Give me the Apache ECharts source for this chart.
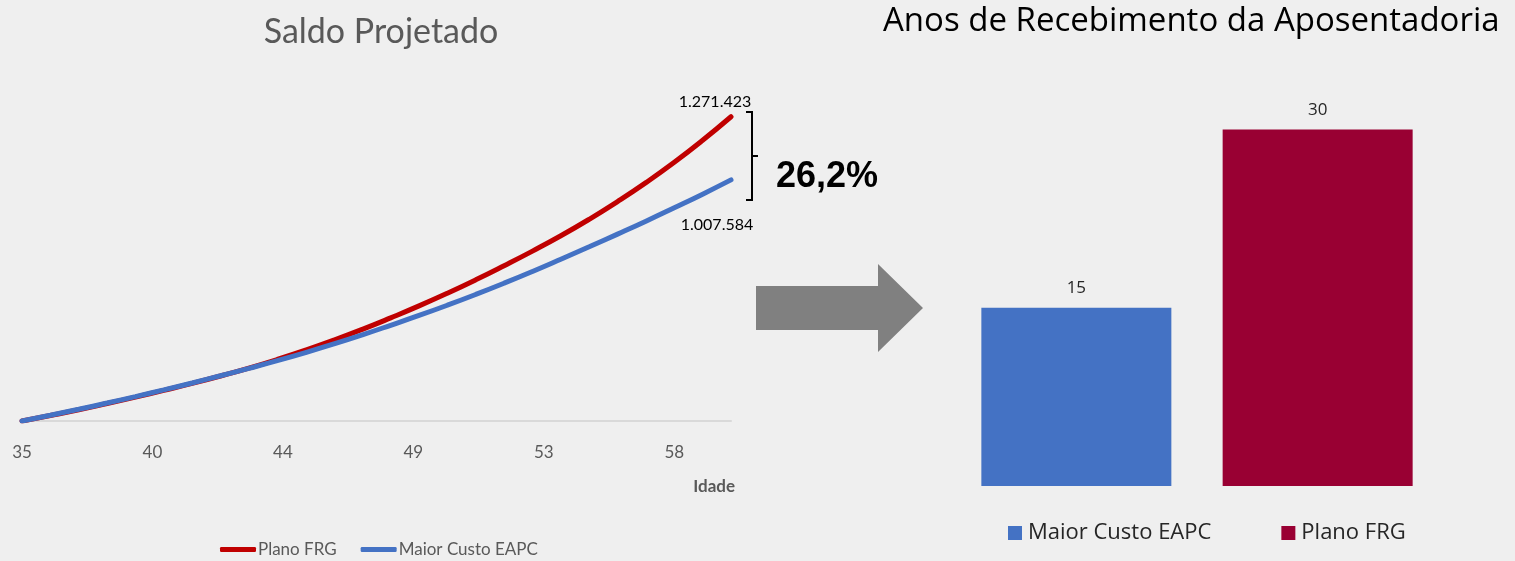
<!DOCTYPE html>
<html>
<head>
<meta charset="utf-8">
<script src="https://cdn.jsdelivr.net/npm/echarts@6/dist/echarts.min.js"></script>
<style>
  html, body { margin: 0; padding: 0; background: #efefef; }
  #saldo { position: absolute; left: 0; top: 0; width: 940px; height: 561px; }
  #anos { position: absolute; left: 870px; top: 0; width: 645px; height: 561px; }
</style>
</head>
<body>
<div id="saldo"></div>
<div id="anos"></div>
<script>
// idade (anos) e saldo projetado em R$
const ages = [35, 36, 37, 38, 39, 40, 41, 42, 43, 44, 45, 46, 47, 48, 49, 50, 51, 52, 53, 54, 55, 56, 57, 58, 59, 60]
const planoFRG = [0, 23000, 47000, 73000, 100000, 128000, 157000, 188000, 221000, 257000, 296000, 338000, 383000,
  431000, 481000, 534000, 590000, 649000, 710000, 774000, 843000, 917000, 996000, 1081000, 1173000, 1271423]
const maiorCustoEAPC = [0, 24000, 49000, 75000, 102000, 130000, 159000, 189000, 220000, 252000, 286000, 322000, 360000,
  400000, 441000, 484000, 529000, 576000, 625000, 676000, 728000, 781000, 835000, 891000, 948000, 1007584]
// o eixo do Excel mostra um rótulo a cada 4,6 anos
const tickAges = [35, 39.6, 44.2, 48.8, 53.4, 58]

// anos de recebimento
const barNames = ['Maior Custo EAPC', 'Plano FRG']
const anosRecebimento = [15, 30]

const fmt = (v) => String(Math.round(v)).replace(/\B(?=(\d{3})+(?!\d))/g, '.')

const saldo = echarts.init(document.getElementById('saldo'))
saldo.setOption({
  animation: false,
  title: {
    text: 'Saldo Projetado',
    left: 376,
    top: 10,
    textAlign: 'center',
    textStyle: { fontFamily: 'Lato', fontWeight: 'normal', fontSize: 34, color: '#595959' },
  },
  grid: { left: 22, top: 86, width: 709, height: 335 },
  xAxis: {
    type: 'value',
    min: 35,
    max: 60,
    name: 'Idade',
    nameLocation: 'end',
    nameGap: 0,
    nameTextStyle: {
      fontFamily: 'Lato', fontWeight: 'bold', fontSize: 17, color: '#595959',
      align: 'right', verticalAlign: 'top', padding: [57, -4, 0, 0],
    },
    axisLine: { lineStyle: { color: '#d9d9d9', width: 2 } },
    axisTick: { show: false },
    splitLine: { show: false },
    axisLabel: {
      customValues: tickAges,
      formatter: (v) => String(Math.round(v)),
      margin: 23,
      fontFamily: 'Lato',
      fontSize: 17,
      color: '#595959',
    },
  },
  yAxis: { type: 'value', min: 0, max: 1400000, show: false },
  legend: {
    left: 220,
    top: 541,
    padding: 0,
    itemWidth: 36,
    itemHeight: 5,
    itemGap: 24,
    icon: 'roundRect',
    textStyle: { fontFamily: 'Lato', fontSize: 17, color: '#595959', padding: [0, 0, 0, -3] },
    data: ['Plano FRG', 'Maior Custo EAPC'],
  },
  series: [
    {
      name: 'Plano FRG',
      type: 'line',
      smooth: true,
      showSymbol: false,
      color: '#c00000',
      lineStyle: { width: 5, cap: 'round' },
      data: ages.map((a, i) => [a, planoFRG[i]]),
      endLabel: {
        show: true,
        distance: 0,
        align: 'center',
        verticalAlign: 'middle',
        offset: [-16, -15],
        fontFamily: 'Lato',
        fontSize: 16,
        color: '#000',
        formatter: (p) => fmt(p.value[1]),
      },
    },
    {
      name: 'Maior Custo EAPC',
      type: 'line',
      smooth: true,
      showSymbol: false,
      color: '#4472c4',
      lineStyle: { width: 5, cap: 'round' },
      data: ages.map((a, i) => [a, maiorCustoEAPC[i]]),
      endLabel: {
        show: true,
        distance: 0,
        align: 'center',
        verticalAlign: 'middle',
        offset: [-14, 45],
        fontFamily: 'Lato',
        fontSize: 16,
        color: '#000',
        formatter: (p) => fmt(p.value[1]),
      },
    },
  ],
  graphic: [
    {
      type: 'polyline',
      shape: { points: [[746, 112], [752, 112], [752, 200], [746, 200]] },
      style: { stroke: '#000', lineWidth: 2, fill: null },
    },
    {
      type: 'line',
      shape: { x1: 752, y1: 156, x2: 758, y2: 156 },
      style: { stroke: '#000', lineWidth: 2 },
    },
    {
      type: 'text',
      x: 776,
      y: 177,
      style: {
        text: '26,2%',
        font: 'bold 36px "Liberation Sans", Arial, sans-serif',
        fill: '#000',
        verticalAlign: 'middle',
      },
    },
    {
      type: 'polygon',
      shape: { points: [[756, 286], [878, 286], [878, 264], [923, 308], [878, 352], [878, 330], [756, 330]] },
      style: { fill: '#808080' },
    },
  ],
})

const anos = echarts.init(document.getElementById('anos'))
anos.setOption({
  animation: false,
  title: {
    text: 'Anos de Recebimento da Aposentadoria',
    left: 13,
    top: 5,
    padding: 0,
    textStyle: { fontFamily: 'Open Sans', fontWeight: 'normal', fontSize: 33, color: '#000' },
  },
  grid: { left: 80, top: 70, width: 494, height: 416 },
  xAxis: { type: 'category', data: [''], show: false },
  yAxis: { type: 'value', min: 0, max: 35, show: false },
  legend: {
    left: 138,
    top: 522,
    padding: 0,
    itemWidth: 14,
    itemHeight: 14,
    itemGap: 70,
    icon: 'rect',
    textStyle: { fontFamily: 'Open Sans', fontSize: 22, color: '#262626', padding: [0, 0, 0, 1] },
    data: barNames,
  },
  series: barNames.map((n, i) => ({
    name: n,
    type: 'bar',
    barWidth: 190,
    barGap: '27%',
    color: i === 0 ? '#4472c4' : '#990033',
    data: [anosRecebimento[i]],
    label: {
      show: true,
      position: 'top',
      distance: 11,
      fontFamily: 'Open Sans',
      fontSize: 17,
      color: '#262626',
    },
  })),
})
</script>
</body>
</html>
